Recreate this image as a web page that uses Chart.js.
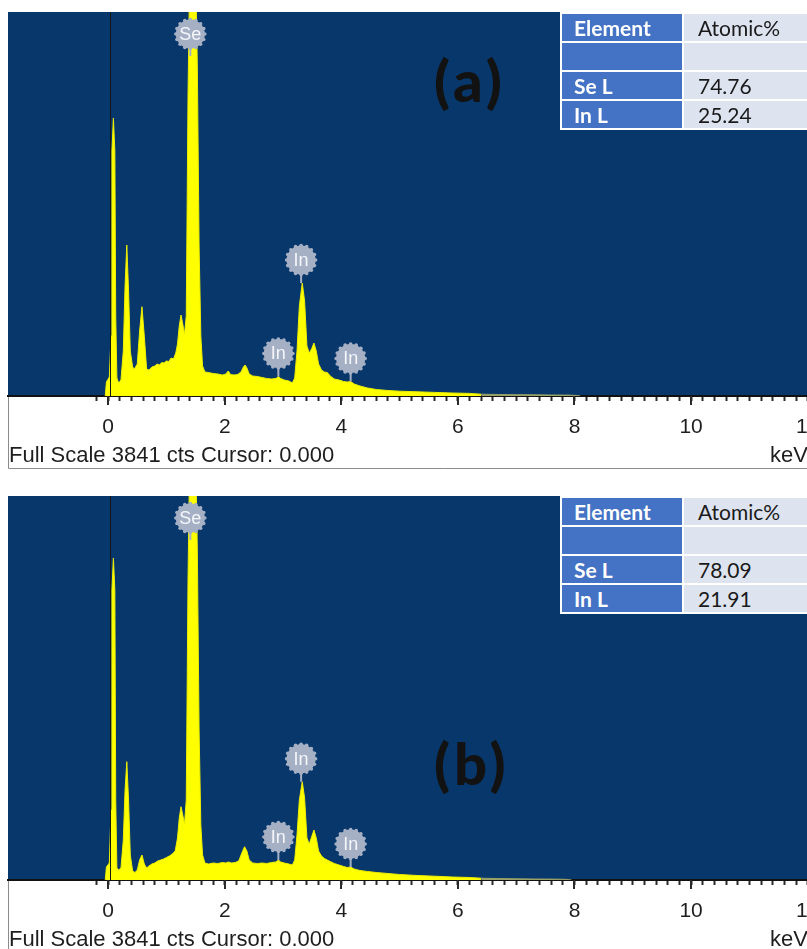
<!DOCTYPE html>
<html>
<head>
<meta charset="utf-8">
<title>EDS spectra – InSe</title>
<script src="https://cdn.jsdelivr.net/npm/chart.js@4.4.1/dist/chart.umd.min.js"></script>
<style>
  html, body { margin: 0; padding: 0; background: #fff; width: 807px; height: 949px; overflow: hidden; }
  .panel { position: absolute; left: 0; width: 807px; height: 472px; overflow: hidden; }
  .panel canvas { position: absolute; left: 0; top: 0; }
  .tag { position: absolute; left: 434px; font-family: Lato, "Open Sans", sans-serif; font-weight: 900; font-size: 58px; letter-spacing: 4px; color: #121212; line-height: 66px; }
  .status { position: absolute; left: 9px; top: 442px; font-family: "Liberation Sans", Arial, sans-serif; font-size: 22px; color: #1e1e1e; line-height: 26px; white-space: nowrap; }
  .unit { position: absolute; left: 770px; top: 442px; font-family: "Liberation Sans", Arial, sans-serif; font-size: 22px; color: #1e1e1e; line-height: 26px; }
  table.quant { position: absolute; left: 560px; top: 12px; width: 274px; table-layout: fixed; border-collapse: separate; border-spacing: 2px; background: #fff; font-family: Lato, "Open Sans", sans-serif; font-size: 21px; }
  table.quant td { height: 27px; padding: 0 0 0 12px; line-height: 27px; white-space: nowrap; overflow: hidden; }
  table.quant td.el { width: 108px; background: #4472c4; color: #fff; font-weight: 700; }
  table.quant td.val { width: 136px; padding-left: 14px; background: #dde3ef; color: #1a1a1a; }
</style>
</head>
<body>

<div class="panel" id="panelA" style="top:0px">
  <canvas id="chartA" width="880" height="472"></canvas>
  <div class="tag" style="top:47px">(a)</div>
  <table class="quant" id="tableA"></table>
  <div class="status">Full Scale 3841 cts Cursor: 0.000</div>
  <div class="unit">keV</div>
</div>

<div class="panel" id="panelB" style="top:484px">
  <canvas id="chartB" width="880" height="472"></canvas>
  <div class="tag" style="top:246px">(b)</div>
  <table class="quant" id="tableB"></table>
  <div class="status">Full Scale 3841 cts Cursor: 0.000</div>
  <div class="unit">keV</div>
</div>

<script>
// ---- spectrum (a): energy in keV, intensity in counts ----
const energyA = [-0.05, -0.03, 0.02, 0.05, 0.065, 0.09, 0.115, 0.13, 0.15, 0.18, 0.22, 0.26, 0.29, 0.32, 0.35, 0.38,
  0.42, 0.45, 0.50, 0.54, 0.58, 0.62, 0.66, 0.70, 0.75, 0.80, 0.84, 0.88, 0.92, 0.96, 1.00, 1.04, 1.08, 1.12,
  1.16, 1.19, 1.22, 1.25, 1.28, 1.31, 1.34, 1.37, 1.40, 1.45, 1.50, 1.53, 1.56, 1.59, 1.62, 1.66, 1.72, 1.80,
  1.88, 1.96, 2.02, 2.06, 2.10, 2.16, 2.22, 2.28, 2.32, 2.35, 2.38, 2.42, 2.48, 2.56, 2.64, 2.72, 2.80, 2.88,
  2.92, 2.96, 3.02, 3.10, 3.16, 3.20, 3.24, 3.28, 3.33, 3.37, 3.41, 3.45, 3.49, 3.53, 3.57, 3.61, 3.66, 3.71,
  3.76, 3.81, 3.88, 3.96, 4.04, 4.10, 4.16, 4.22, 4.32, 4.45, 4.60, 4.80, 5.00, 5.30, 5.60, 5.90, 6.20, 6.40,
  6.70, 7.00, 7.30, 7.60, 7.90, 8.05, 8.10];
const countsA = [0, 140, 190, 600, 2450, 2780, 2450, 800, 180, 130, 160, 450, 1100, 1510, 1050, 450,
  290, 270, 320, 650, 893, 600, 270, 260, 290, 300, 320, 310, 335, 330, 350, 345, 380, 370,
  430, 520, 700, 810, 720, 620, 800, 3000, 4300, 4800, 4300, 3300, 1500, 600, 300, 240, 235, 225,
  220, 210, 220, 250, 215, 210, 215, 240, 290, 310, 280, 220, 200, 195, 185, 175, 170, 175,
  195, 175, 160, 150, 130, 180, 450, 900, 1130, 950, 500, 430, 470, 530, 450, 320, 260, 240,
  235, 200, 170, 160, 145, 140, 145, 120, 100, 80, 65, 55, 48, 42, 36, 30, 26, 18,
  15, 13, 12, 10, 9, 5, 0];

// ---- spectrum (b) ----
const energyB = [-0.05, -0.03, 0.02, 0.05, 0.065, 0.09, 0.115, 0.13, 0.15, 0.18, 0.22, 0.26, 0.29, 0.32, 0.35, 0.38,
  0.42, 0.46, 0.50, 0.54, 0.58, 0.62, 0.66, 0.70, 0.75, 0.80, 0.85, 0.90, 0.95, 1.00, 1.05, 1.10, 1.15,
  1.19, 1.22, 1.25, 1.28, 1.31, 1.34, 1.37, 1.40, 1.45, 1.50, 1.53, 1.56, 1.59, 1.62, 1.66, 1.72, 1.80,
  1.88, 1.96, 2.02, 2.06, 2.12, 2.18, 2.24, 2.30, 2.34, 2.38, 2.42, 2.48, 2.56, 2.64, 2.72, 2.80, 2.88,
  2.92, 2.96, 3.02, 3.10, 3.16, 3.20, 3.24, 3.28, 3.33, 3.37, 3.41, 3.45, 3.49, 3.53, 3.57, 3.61, 3.66, 3.71,
  3.76, 3.81, 3.88, 3.96, 4.04, 4.10, 4.16, 4.22, 4.32, 4.45, 4.60, 4.80, 5.00, 5.30, 5.60, 5.90, 6.20, 6.40,
  6.70, 7.00, 7.30, 7.60, 7.85, 7.95];
const countsB = [0, 130, 170, 700, 2900, 3220, 2900, 800, 120, 100, 120, 400, 900, 1183, 800, 250,
  90, 75, 100, 200, 250, 160, 120, 140, 160, 170, 190, 200, 210, 225, 240, 260, 290,
  420, 620, 733, 650, 560, 800, 3000, 4300, 4800, 4300, 3300, 1500, 550, 250, 170, 160, 170,
  165, 175, 170, 180, 170, 175, 190, 280, 333, 290, 200, 170, 165, 170, 165, 175, 180,
  200, 180, 170, 160, 150, 200, 450, 800, 983, 820, 420, 360, 430, 500, 420, 290, 240, 215,
  200, 185, 165, 150, 135, 125, 130, 110, 95, 85, 75, 65, 55, 45, 38, 30, 25, 18,
  14, 12, 10, 9, 7, 0];

// ---- peak identification markers ----
const markerNames = ['Se', 'In', 'In', 'In'];
const markerEnergies = [1.41, 3.31, 2.92, 4.16];
const markerCountsA = [3841, 1130, 195, 145];
const markerCountsB = [3841, 983, 200, 130];

// ---- quantification tables ----
const tableRowsA = [['Element', 'Atomic%'], ['', ''], ['Se L', '74.76'], ['In L', '25.24']];
const tableRowsB = [['Element', 'Atomic%'], ['', ''], ['Se L', '78.09'], ['In L', '21.91']];

// ---- axis ----
const majorTicks = [0, 2, 4, 6, 8, 10, 12];
const majorTickLabels = ['0', '2', '4', '6', '8', '10', '12'];
const FULL_SCALE = 3841;
const X_MIN = -1.718;
const X_MAX = 13.09;
const CURSOR_KEV = 0.04;
const TAIL_KEV = 6.3;   // beyond this the trace is only a faint line

const NAVY = '#08386b';
const YELLOW = '#ffff00';
const TAIL = '#9aa268';
const MARKER = 'rgb(166,176,197)';

// minor ticks every 0.2 keV starting at -0.2
const minorTicks = [];
for (let k = -1; k <= 65; k++) minorTicks.push(k / 5);

function fillTable(id, rows) {
  const t = document.getElementById(id);
  rows.forEach(r => {
    const tr = document.createElement('tr');
    const a = document.createElement('td'); a.className = 'el'; a.textContent = r[0];
    const b = document.createElement('td'); b.className = 'val'; b.textContent = r[1];
    tr.appendChild(a); tr.appendChild(b); t.appendChild(tr);
  });
}
fillTable('tableA', tableRowsA);
fillTable('tableB', tableRowsB);

const edsPlugin = {
  id: 'edsPanel',
  beforeDraw(chart) {
    const { ctx, chartArea: a, width, height } = chart;
    ctx.save();
    ctx.fillStyle = '#fff';
    ctx.fillRect(0, 0, width, height);
    ctx.fillStyle = NAVY;
    ctx.fillRect(a.left, a.top, a.right - a.left + 20, a.bottom - a.top);
    // frame of the status strip
    ctx.strokeStyle = '#8c8c8c';
    ctx.lineWidth = 1;
    ctx.beginPath();
    ctx.moveTo(a.left + 0.5, a.bottom);
    ctx.lineTo(a.left + 0.5, a.bottom + 72.5);
    ctx.lineTo(width, a.bottom + 72.5);
    ctx.stroke();
    ctx.restore();
  },
  afterDatasetsDraw(chart, args, opts) {
    const { ctx, chartArea: a, scales: { x, y } } = chart;
    ctx.save();
    // cursor
    const cx = Math.round(x.getPixelForValue(CURSOR_KEV)) + 0.5;
    ctx.strokeStyle = '#151515';
    ctx.lineWidth = 1;
    ctx.beginPath(); ctx.moveTo(cx, a.top); ctx.lineTo(cx, a.bottom); ctx.stroke();
    // element markers
    const counts = opts.markerCounts || [];
    markerNames.forEach((name, i) => {
      const px = x.getPixelForValue(markerEnergies[i]);
      const peakY = y.getPixelForValue(Math.min(counts[i], FULL_SCALE));
      const cy = Math.max(peakY - 23, a.top + 22);
      const stemEnd = Math.max(peakY, cy + 22);
      ctx.strokeStyle = MARKER;
      ctx.lineWidth = 2;
      ctx.beginPath(); ctx.moveTo(px, cy + 12); ctx.lineTo(px, stemEnd); ctx.stroke();
      ctx.fillStyle = MARKER;
      ctx.beginPath(); ctx.arc(px, cy, 14.5, 0, Math.PI * 2); ctx.fill();
      for (let k = 0; k < 16; k++) {
        const ang = k * Math.PI / 8;
        ctx.beginPath();
        ctx.arc(px + Math.cos(ang) * 14.5, cy + Math.sin(ang) * 14.5, 1.8, 0, Math.PI * 2);
        ctx.fill();
      }
      ctx.fillStyle = '#f4f6fa';
      ctx.font = '18px "Liberation Sans", Arial, sans-serif';
      ctx.textAlign = 'center';
      ctx.textBaseline = 'middle';
      ctx.fillText(name, px, cy + 1);
    });
    ctx.restore();
  },
  afterDraw(chart) {
    const { ctx, chartArea: a, scales: { x } } = chart;
    ctx.save();
    ctx.strokeStyle = '#2a2a2a';
    ctx.lineWidth = 2;
    majorTicks.forEach(v => {
      const px = Math.round(x.getPixelForValue(v));
      ctx.beginPath(); ctx.moveTo(px, a.bottom); ctx.lineTo(px, a.bottom + 9); ctx.stroke();
    });
    ctx.restore();
  }
};

function makeChart(canvasId, energies, counts, markerCounts) {
  const points = energies.map((e, i) => ({ x: e, y: counts[i] }));
  return new Chart(document.getElementById(canvasId), {
    type: 'line',
    data: {
      datasets: [{
        data: points,
        borderColor: '#eded00',
        borderWidth: 1,
        backgroundColor: YELLOW,
        fill: 'origin',
        pointRadius: 0,
        tension: 0,
        clip: 0,
        segment: {
          borderColor: c => (c.p0.parsed.x >= TAIL_KEV ? TAIL : undefined),
          backgroundColor: c => (c.p0.parsed.x >= TAIL_KEV ? TAIL : undefined)
        }
      }]
    },
    options: {
      responsive: false,
      animation: false,
      devicePixelRatio: 1,
      layout: { padding: { top: 12, left: 8, right: 8, bottom: 0 } },
      plugins: {
        legend: { display: false },
        tooltip: { enabled: false },
        edsPanel: { markerCounts: markerCounts }
      },
      scales: {
        x: {
          type: 'linear',
          min: X_MIN,
          max: X_MAX,
          afterBuildTicks: s => { s.ticks = minorTicks.map(v => ({ value: v })); },
          afterFit: s => { s.height = 76; },
          ticks: {
            autoSkip: false,
            maxRotation: 0,
            padding: 14,
            color: '#1e1e1e',
            font: { family: '"Liberation Sans", Arial, sans-serif', size: 21 },
            callback: v => {
              const idx = majorTicks.findIndex(m => Math.abs(m - v) < 1e-6);
              return idx >= 0 ? majorTickLabels[idx] : '';
            }
          },
          grid: { drawOnChartArea: false, drawTicks: true, tickLength: 5, tickWidth: 2, tickColor: '#2a2a2a' },
          border: { display: true, color: '#111', width: 2 }
        },
        y: { display: false, min: 0, max: FULL_SCALE }
      }
    },
    plugins: [edsPlugin]
  });
}

makeChart('chartA', energyA, countsA, markerCountsA);
makeChart('chartB', energyB, countsB, markerCountsB);
</script>
</body>
</html>
